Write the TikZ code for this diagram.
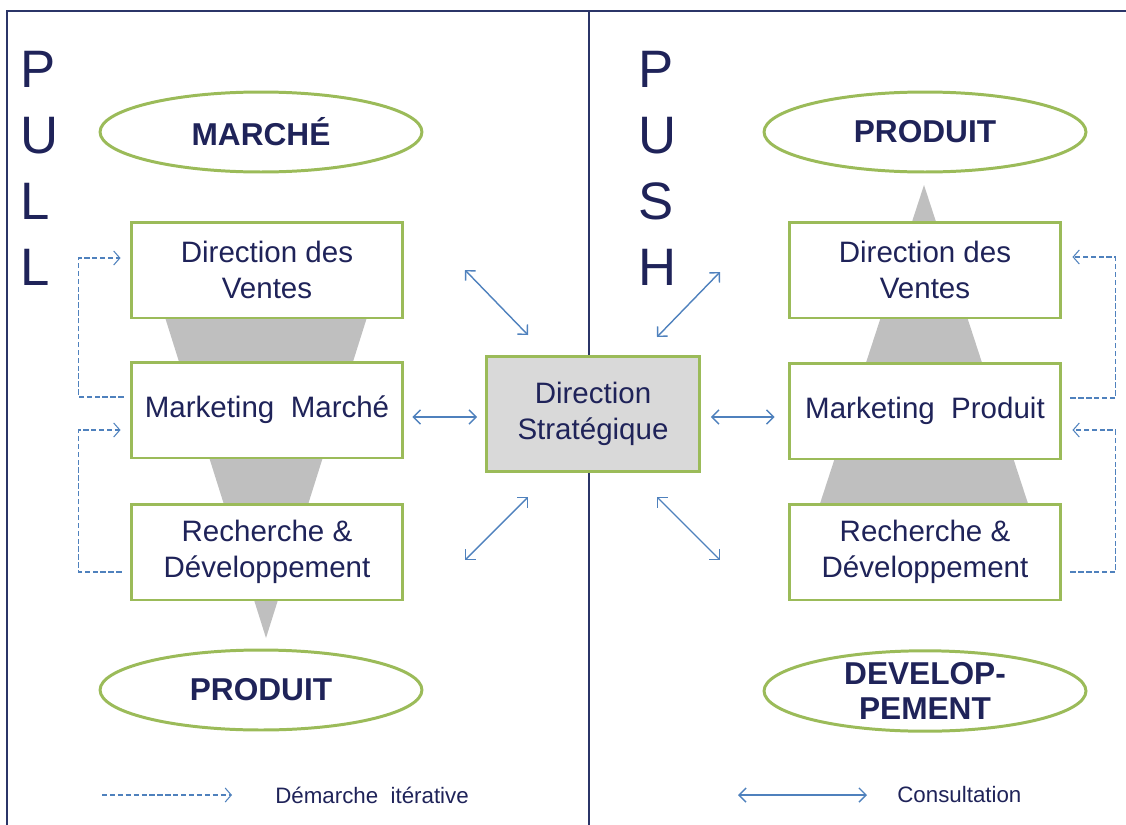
\documentclass[tikz,border=0pt]{standalone}
\usepackage{fontspec}
\setmainfont{Liberation Sans}
\usetikzlibrary{arrows.meta,calc,shapes.geometric}
\definecolor{navy}{HTML}{1F2359}
\definecolor{cadre}{HTML}{2B3568}
\definecolor{vert}{HTML}{9BBB59}
\definecolor{bleu}{HTML}{4F81BD}
\definecolor{gris}{HTML}{BFBFBF}
\definecolor{grisclair}{HTML}{D9D9D9}
\begin{document}
\begin{tikzpicture}[x=.02cm, y=-.02cm, text=navy,
	pole/.style={ellipse, draw=vert, line width=1.7pt, fill=white, minimum width=6.44cm, minimum height=1.6cm, inner sep=0pt, align=center, font=\fontsize{18}{19.8}\selectfont\bfseries},
	service/.style={rectangle, draw=vert, line width=1.7pt, fill=white, minimum width=5.44cm, minimum height=1.92cm, inner sep=0pt, align=center, font=\fontsize{16.8}{20.4}\selectfont},
	consult/.style={bleu, line width=.8pt, {Straight Barb[length=4pt,width=8pt]}-{Straight Barb[length=4pt,width=8pt]}},
	iter/.style={bleu, line width=.6pt, dash pattern=on 3pt off 1.5pt, -{Straight Barb[length=3.5pt,width=8pt]}},
	lettre/.style={anchor=base west, inner sep=0pt, font=\fontsize{30}{36}\selectfont},
	legende/.style={anchor=west, inner sep=0pt, font=\fontsize{12.7}{14}\selectfont}]
	\useasboundingbox (0,0) rectangle (1126,825);
	% cadre
	\draw[cadre, line width=1.1pt] (1126,11) -- (7,11) -- (7,825);
	\draw[cadre, line width=1.1pt] (589,11) -- (589,825);
	% entonnoir / pyramide
	\fill[gris] (135,222) -- (397,222) -- (266,638) -- cycle;
	\fill[gris] (924,185) -- (1035,525) -- (813,525) -- cycle;
	% pull
	\foreach \l [count=\i] in {P,U,L,L}
		\node[lettre] (pull\i) at (20,87+66*\i-66) {\l};
	\node[pole]    (marche)   at (261,132) {MARCHÉ};
	\node[service] (ventesg)  at (267,270) {Direction des\\Ventes};
	\node[service] (mktg)     at (267,410) {Marketing\ \ Marché};
	\node[service] (rdg)      at (267,552) {Recherche \&\\Développement};
	\node[pole]    (produitg) at (261,690) {PRODUIT};
	% push
	\foreach \l [count=\i] in {P,U,S,H}
		\node[lettre] (push\i) at (638,87+66*\i-66) {\l};
	\node[pole]    (produitd) at (925,132) {PRODUIT};
	\node[service] (ventesd)  at (925,270) {Direction des\\Ventes};
	\node[service] (mktd)     at (925,411) {Marketing\ \ Produit};
	\node[service] (rdd)      at (925,552) {Recherche \&\\Développement};
	\node[pole]    (devd)     at (925,691) {DEVELOP-\\PEMENT};
	% centre
	\node[service, fill=grisclair, minimum width=4.26cm, minimum height=2.3cm] (strat) at (593,414) {Direction\\Stratégique};
	% consultation
	\draw[consult] ($(mktg.east)+(8,7)$) -- ($(strat.west)+(-8,3)$);
	\draw[consult] ($(strat.east)+(10,3)$) -- ($(mktd.west)+(-13,6)$);
	\coordinate (cg1) at (465,270); \coordinate (cg2) at (528,335);
	\coordinate (cg3) at (528,497); \coordinate (cg4) at (465,560);
	\coordinate (cd1) at (720,272); \coordinate (cd2) at (657,337);
	\coordinate (cd3) at (657,497); \coordinate (cd4) at (720,560);
	\draw[consult] (cg1) -- (cg2);
	\draw[consult] (cg3) -- (cg4);
	\draw[consult] (cd1) -- (cd2);
	\draw[consult] (cd3) -- (cd4);
	% iterations
	\draw[iter] ($(mktg.west)+(-6,-13)$) -- ++(-45,0) |- ($(ventesg.west)+(-9,-12)$);
	\draw[iter] ($(rdg.west)+(-8,20)$) -- ++(-43,0) |- ($(mktg.west)+(-9,20)$);
	\draw[iter] ($(mktd.east)+(8,-13)$) -- ++(45,0) |- ($(ventesd.east)+(10,-13)$);
	\draw[iter] ($(rdd.east)+(8,20)$) -- ++(45,0) |- ($(mktd.east)+(10,19)$);
	% legende
	\coordinate (li1) at (102,795); \coordinate (li2) at (232,795);
	\draw[iter] (li1) -- (li2);
	\node[legende] (lgiter) at (275,795) {Démarche\ \ itérative};
	\coordinate (lc1) at (738,795); \coordinate (lc2) at (867,795);
	\draw[consult] (lc1) -- (lc2);
	\node[legende] (lgcons) at (897,795) {Consultation};
\end{tikzpicture}
\end{document}
